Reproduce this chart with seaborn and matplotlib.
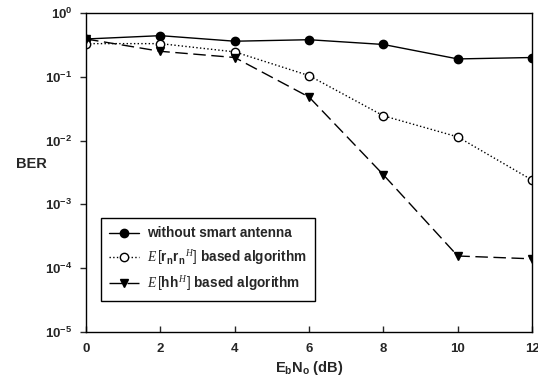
import numpy as np
import pandas as pd
import seaborn as sns
import matplotlib.pyplot as plt

# Eb/No points (dB)
snr = [0, 2, 4, 6, 8, 10, 12]
ber_no_antenna = [0.39, 0.44, 0.36, 0.38, 0.32, 0.19, 0.20]
ber_rr = [0.33, 0.33, 0.245, 0.104, 0.0244, 0.0114, 0.0024]
ber_hh = [0.39, 0.25, 0.20, 0.048, 0.0029, 0.000155, 0.00014]

labels = ['without smart antenna',
          r'$E\,[\mathbf{r_n r_n}^{\,H}]$ based algorithm',
          r'$E\,[\mathbf{hh}^{\,H}]$ based algorithm']
ytick_vals = [1e-5, 1e-4, 1e-3, 1e-2, 1e-1, 1e0]
ytick_labels = [r'$\mathbf{10^{-5}}$', r'$\mathbf{10^{-4}}$', r'$\mathbf{10^{-3}}$',
                r'$\mathbf{10^{-2}}$', r'$\mathbf{10^{-1}}$', r'$\mathbf{10^{0}}$']

sns.set_style('ticks')
plt.rcParams['font.family'] = ['Liberation Sans', 'DejaVu Sans']
plt.rcParams['mathtext.fontset'] = 'custom'
plt.rcParams['mathtext.rm'] = 'Liberation Sans'
plt.rcParams['mathtext.bf'] = 'Liberation Sans:bold'
plt.rcParams['mathtext.it'] = 'Liberation Serif:italic'

fig = plt.figure(figsize=(5.38, 3.91), dpi=100)
ax = fig.add_axes([0.160, 0.151, 0.829, 0.816])

df = pd.DataFrame({'snr': snr * 3,
                   'ber': ber_no_antenna + ber_rr + ber_hh,
                   'series': [labels[0]] * 7 + [labels[1]] * 7 + [labels[2]] * 7})

styles = [dict(ls='-', marker='o', mfc='black'),
          dict(ls=':', marker='o', mfc='white'),
          dict(ls=(0, (9, 4)), marker='v', mfc='black')]
for lab, st in zip(labels, styles):
    sub = df[df['series'] == lab]
    sns.lineplot(data=sub, x='snr', y='ber', ax=ax, color='black', lw=1.0,
                 linestyle=st['ls'], marker=st['marker'], markersize=6,
                 markerfacecolor=st['mfc'], markeredgecolor='black',
                 markeredgewidth=1.0, label=lab)

ax.set_yscale('log')
ax.set_ylim(1e-5, 1)
ax.set_xlim(0, 12)
ax.set_yticks(ytick_vals)
ax.set_yticklabels(ytick_labels, fontsize=9.5)
ax.minorticks_off()
ax.set_xticks(snr)
ax.set_xticklabels([str(v) for v in snr], fontsize=9.5, fontweight='bold')
ax.tick_params(axis='x', direction='in', length=4, width=1, pad=8)
ax.tick_params(axis='y', direction='out', length=4, width=1, pad=6)
for sp in ax.spines.values():
    sp.set_linewidth(1.0)
    sp.set_color('black')

ax.set_xlabel(r'E$_\mathbf{b}$N$_\mathbf{o}$ (dB)', fontsize=10.5, fontweight='bold', labelpad=3)
ax.set_ylabel('BER', fontsize=10.5, fontweight='bold', rotation=0)
ax.yaxis.set_label_coords(-0.123, 0.505)

leg = ax.legend(loc='lower left', bbox_to_anchor=(0.018, 0.075), fontsize=9.8,
                frameon=True, fancybox=False, edgecolor='black', framealpha=1,
                handlelength=2.2, handletextpad=0.6, borderpad=0.6, labelspacing=0.55)
leg.get_frame().set_linewidth(1.0)
for t in leg.get_texts():
    t.set_fontweight('bold')

fig.savefig('out.png', dpi=100)
